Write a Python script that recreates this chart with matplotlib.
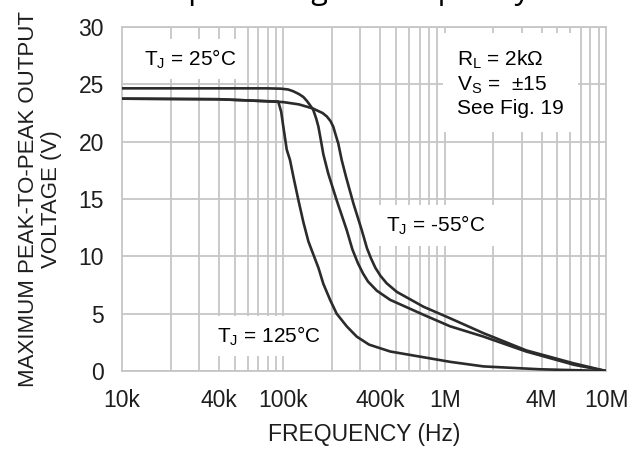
import matplotlib
matplotlib.use("Agg")
import matplotlib.pyplot as plt

plt.rcParams.update(
    {
        "font.family": ["Liberation Sans", "DejaVu Sans"],
        "mathtext.fontset": "custom",
        "mathtext.rm": "Liberation Sans",
    }
)

# frequency (Hz) / max peak-to-peak output voltage (V)
freq_25 = [1e4, 4e4, 8e4, 97e3, 107e3, 115e3, 125e3, 133e3, 140e3, 146e3, 153e3, 160e3,
           165e3, 171e3, 177e3, 190e3, 214e3, 247e3, 268e3, 290e3, 312e3, 335e3, 380e3,
           460e3, 740e3, 1.08e6, 1.74e6, 3.2e6, 6.3e6, 1e7]
volt_25 = [24.65, 24.65, 24.65, 24.62, 24.55, 24.4, 24.15, 23.9, 23.55, 23.2, 22.8, 22.0,
           21.3, 20.1, 18.9, 17.2, 14.9, 12.3, 10.6, 9.4, 8.5, 7.8, 7.0,
           6.2, 4.9, 3.9, 3.0, 1.7, 0.55, 0.0]

freq_m55 = [1e4, 4e4, 72e3, 100e3, 125e3, 152e3, 175e3, 186e3, 196e3, 204e3, 212e3, 219e3,
            230e3, 245e3, 272e3, 306e3, 330e3, 350e3, 372e3, 400e3, 437e3, 505e3, 740e3,
            1.08e6, 1.74e6, 3.2e6, 6.3e6, 1e7]
volt_m55 = [23.75, 23.7, 23.55, 23.45, 23.25, 22.9, 22.5, 22.2, 21.8, 21.3, 20.5, 19.85,
            18.4, 16.9, 14.6, 12.3, 10.7, 9.8, 9.0, 8.3, 7.65, 6.9, 5.6,
            4.6, 3.3, 1.8, 0.67, 0.0]

freq_125 = [1e4, 4e4, 72e3, 93e3, 97e3, 100e3, 105e3, 110e3, 116e3, 124e3, 133e3, 143e3,
            155e3, 165e3, 177e3, 195e3, 214e3, 247e3, 285e3, 340e3, 460e3, 1.08e6, 1.74e6,
            3.9e6, 1e7]
volt_125 = [23.75, 23.7, 23.55, 23.5, 22.6, 21.3, 19.3, 18.4, 16.8, 14.9, 13.0, 11.3,
            10.0, 9.0, 7.6, 6.2, 5.0, 3.9, 3.0, 2.3, 1.7, 0.8, 0.4,
            0.15, 0.0]

xtick_vals = [1e4, 4e4, 1e5, 4e5, 1e6, 4e6, 1e7]
xtick_labels = ["10k", "40k", "100k", "400k", "1M", "4M", "10M"]
ytick_vals = [0, 5, 10, 15, 20, 25, 30]

fig = plt.figure(figsize=(6.44, 4.49), dpi=100)
ax = fig.add_axes([122 / 644, 1 - 371 / 449, 484 / 644, 344 / 449])

grid_color = "#c6c6c6"
line_color = "#2b2b2b"

for f, v in [(freq_25, volt_25), (freq_m55, volt_m55), (freq_125, volt_125)]:
    ax.plot(f, v, color=line_color, lw=1.9, solid_capstyle="round",
            solid_joinstyle="round", zorder=3)

ax.set_xscale("log")
ax.set_xlim(1e4, 1e7)
ax.set_ylim(0, 30)

minor = [m * 10 ** d for d in range(4, 7) for m in range(2, 10)]
ax.set_xticks(minor, minor=True)
ax.set_xticks(xtick_vals)
ax.set_xticklabels(xtick_labels)
ax.set_yticks(ytick_vals)
ax.tick_params(axis="both", which="both", length=0, labelsize=16.5, colors="#1e1e1e")
ax.tick_params(axis="x", pad=13)
ax.tick_params(axis="y", pad=13)

for xv in minor + [1e5, 1e6]:
    ax.axvline(xv, color=grid_color, lw=1.3, zorder=1)
for yv in ytick_vals:
    ax.axhline(yv, color=grid_color, lw=1.3, zorder=1)
for s in ax.spines.values():
    s.set_color(grid_color)
    s.set_linewidth(1.3)

ax.set_xlabel("FREQUENCY (Hz)", fontsize=16.5, color="#1e1e1e", labelpad=8)
ax.set_ylabel("MAXIMUM PEAK-TO-PEAK OUTPUT\nVOLTAGE (V)", fontsize=16, color="#1e1e1e",
              labelpad=12, linespacing=1.1)

box = dict(facecolor="white", edgecolor="none", pad=6)
tj = r"T$_\mathregular{J}$"
ax.text(26.5e3, 27.2, tj + " = 25°C", fontsize=15, ha="center", va="center",
        bbox=box, zorder=2)
ax.text(434e3, 12.7, tj + " = -55°C", fontsize=15, ha="left", va="center",
        bbox=box, zorder=2)
ax.text(38.8e3, 3.05, tj + " = 125°C", fontsize=15, ha="left", va="center",
        bbox=box, zorder=2)
ax.text(1.19e6, 25.1,
        "R$_\\mathregular{L}$ = 2kΩ\nV$_\\mathregular{S}$ =  ±15\nSee Fig. 19",
        fontsize=15, ha="left", va="center", linespacing=1.2,
        bbox=dict(facecolor="white", edgecolor="none", pad=10), zorder=2)

# title is cut off at the top edge of the reference, only descenders show
fig.text(0.516, 1 + 0.5 / 449, "Output Swing vs. Frequency", fontsize=22,
         family="Open Sans", ha="center", va="baseline")

fig.savefig("out.png", dpi=100)
